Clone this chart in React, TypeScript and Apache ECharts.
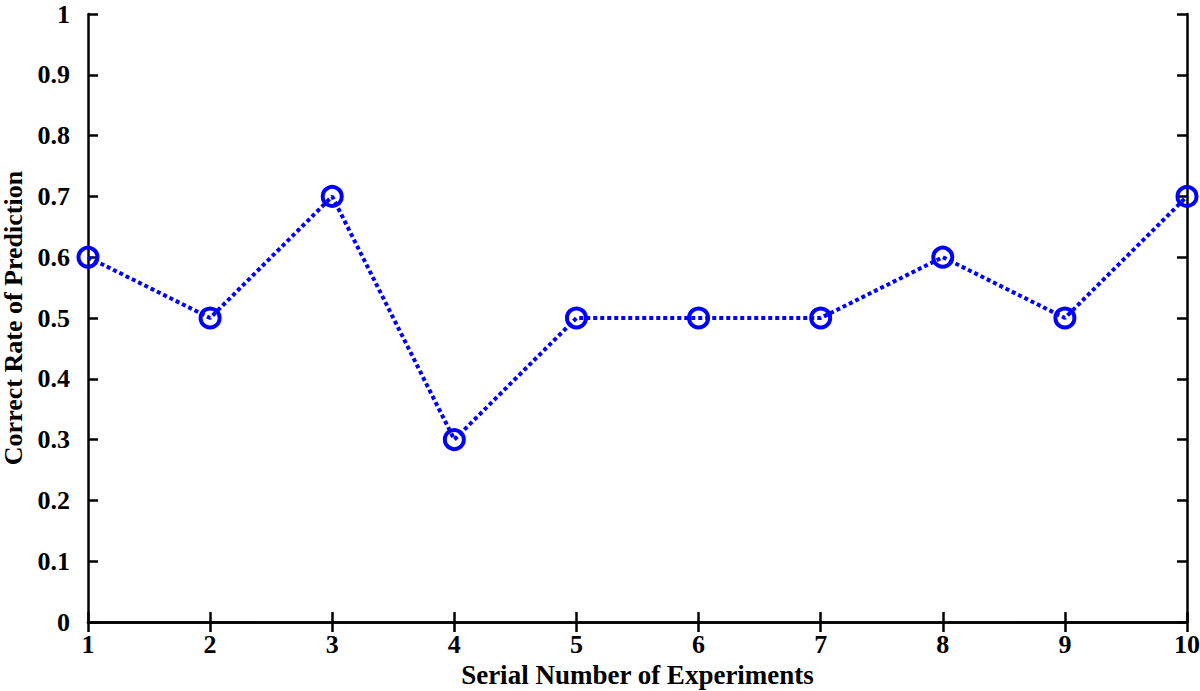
import React, { useEffect, useRef } from "react";
import * as echarts from "echarts";

const experiments = [1, 2, 3, 4, 5, 6, 7, 8, 9, 10];
const correctRate = [0.6, 0.5, 0.7, 0.3, 0.5, 0.5, 0.5, 0.6, 0.5, 0.7];
const xTitle = "Serial Number of Experiments";
const yTitle = "Correct Rate of Prediction";

const FONT = "'Liberation Serif', 'Times New Roman', serif";

export default function App() {
  const ref = useRef<HTMLDivElement>(null);
  useEffect(() => {
    const chart = echarts.init(ref.current!, null, { renderer: "svg" });
    const axisLine = { show: true, lineStyle: { color: "#000", width: 2.5 } };
    const axisTick = { show: true, inside: true, length: 10, lineStyle: { color: "#000", width: 2.5 } };
    const label = { fontFamily: FONT, fontWeight: "bold" as const, fontSize: 26, lineHeight: 22, color: "#000" };
    const nameStyle = { fontFamily: FONT, fontWeight: "bold" as const, fontSize: 26, lineHeight: 22, color: "#000" };
    chart.setOption({
      animation: false,
      backgroundColor: "#fff",
      grid: { left: 88, right: 13, top: 14, bottom: 69, outerBoundsMode: "none", containLabel: false },
      xAxis: [
        {
          type: "value",
          min: 1,
          max: 10,
          interval: 1,
          position: "bottom",
          axisLine,
          axisTick,
          splitLine: { show: false },
          axisLabel: { ...label, margin: 11 },
          name: xTitle,
          nameLocation: "middle",
          nameGap: 42,
          nameTextStyle: { ...nameStyle, fontSize: 27 },
        },
        {
          type: "value",
          min: 1,
          max: 10,
          interval: 1,
          position: "top",
          axisLine,
          axisTick,
          splitLine: { show: false },
          axisLabel: { show: false },
        },
      ],
      yAxis: [
        {
          type: "value",
          min: 0,
          max: 1,
          interval: 0.1,
          position: "left",
          axisLine,
          axisTick,
          splitLine: { show: false },
          axisLabel: { ...label, margin: 18 },
          name: yTitle,
          nameLocation: "middle",
          nameGap: 61,
          nameTextStyle: nameStyle,
        },
        {
          type: "value",
          min: 0,
          max: 1,
          interval: 0.1,
          position: "right",
          axisLine,
          axisTick,
          splitLine: { show: false },
          axisLabel: { show: false },
        },
      ],
      series: [
        {
          type: "line",
          data: experiments.map((x, i) => [x, correctRate[i]]),
          symbol: "circle",
          symbolSize: 19,
          lineStyle: { color: "#0000ff", width: 4, type: [4, 3] },
          itemStyle: { color: "rgba(0,0,0,0)", borderColor: "#0000ff", borderWidth: 4 },
          clip: false,
          z: 5,
        },
      ],
    });
    return () => chart.dispose();
  }, []);
  return <div ref={ref} style={{ width: 1200, height: 691, position: "absolute", left: 0, top: 0 }} />;
}
